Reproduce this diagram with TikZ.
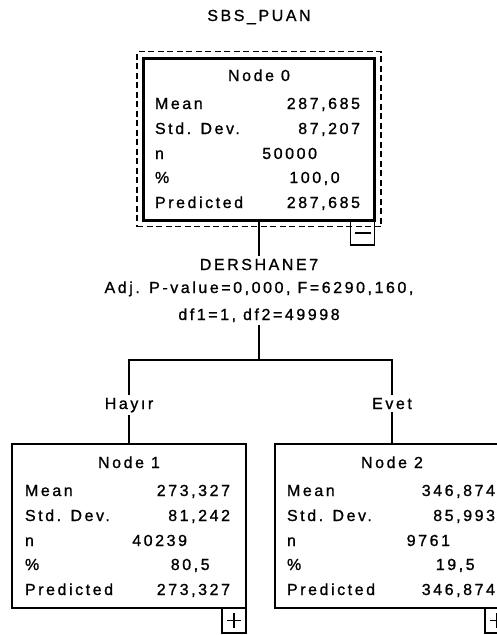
\documentclass[tikz,border=0pt]{standalone}
\usepackage{fontspec}
\setmainfont{Liberation Sans}[LetterSpace=16,FakeBold=1]
\usetikzlibrary{fit}
\begin{document}
\begin{tikzpicture}[x=1pt,y=-1pt,
  txt/.style={inner sep=0pt,outer sep=0pt,font=\fontsize{16}{19}\selectfont},
  lbl/.style={txt,inner ysep=3pt},
  box/.style={draw,line width=1.3pt,inner sep=0pt,outer sep=0pt,minimum width=234pt,minimum height=164pt},
  rootbox/.style={box,line width=3pt,minimum width=231pt,minimum height=162pt},
  selbox/.style={draw,line width=1.3pt,dash pattern=on 6pt off 3.5pt,inner sep=6.5pt},
  toggle/.style={draw,line width=1.2pt,inner sep=0pt,outer sep=0pt,minimum width=24pt,minimum height=25pt,anchor=north east},
  link/.style={line width=1.2pt}]
\clip (0,0) rectangle (497,635);
\fill[white] (0,0) rectangle (497,635);

\node[txt,anchor=base] (title) at (259,21) {SBS\_PUAN};

% root node
\node[rootbox] (n0) at (259,139) {};
\node[selbox,fit=(n0)] (n0sel) {};
\node[toggle] (n0tog) at (n0.south east) {};
\draw[line width=2pt] ([xshift=4pt]n0tog.west) -- ([xshift=-4pt]n0tog.east);
\node[txt,anchor=base] (n0h) at (259,81) {Node 0};
\node[txt,anchor=base west] (n0a) at (155,109) {Mean};
\node[txt,anchor=base east] (n0av) at (360,109) {287,685};
\node[txt,anchor=base west] (n0b) at (155,134) {Std. Dev.};
\node[txt,anchor=base east] (n0bv) at (360,134) {87,207};
\node[txt,anchor=base west] (n0c) at (155,159) {n};
\node[txt,anchor=base east] (n0cv) at (317,159) {50000};
\node[txt,anchor=base west] (n0d) at (155,183) {\%};
\node[txt,anchor=base east] (n0dv) at (360,183) {100,0\phantom{00}};
\node[txt,anchor=base west] (n0e) at (155,208) {Predicted};
\node[txt,anchor=base east] (n0ev) at (360,208) {287,685};

% split
\node[lbl,anchor=base] (var) at (259,270) {DERSHANE7};
\node[lbl,anchor=base] (stat1) at (259,293) {Adj. P-value=0,000, F=6290,160,};
\node[lbl,anchor=base] (stat2) at (259,320) {df1=1, df2=49998};
\coordinate (fork) at (259,360);
\node[lbl,anchor=base] (hay) at (129,409) {Hayır};
\node[lbl,anchor=base] (evet) at (392,409) {Evet};

% child nodes
\node[box] (n1) at (129,526) {};
\node[box] (n2) at (392,526) {};
\node[toggle] (n1tog) at (n1.south east) {};
\node[toggle] (n2tog) at (n2.south east) {};
\draw[line width=1.2pt] ([xshift=5pt]n1tog.west) -- ([xshift=-5pt]n1tog.east)
  ([yshift=-5pt]n1tog.north) -- ([yshift=5pt]n1tog.south);
\draw[line width=1.2pt] ([xshift=5pt]n2tog.west) -- ([xshift=-5pt]n2tog.east)
  ([yshift=-5pt]n2tog.north) -- ([yshift=5pt]n2tog.south);

\node[txt,anchor=base] (n1h) at (129,468) {Node 1};
\node[txt,anchor=base west] (n1a) at (25,496) {Mean};
\node[txt,anchor=base east] (n1av) at (230,496) {273,327};
\node[txt,anchor=base west] (n1b) at (25,521) {Std. Dev.};
\node[txt,anchor=base east] (n1bv) at (230,521) {81,242};
\node[txt,anchor=base west] (n1c) at (25,546) {n};
\node[txt,anchor=base east] (n1cv) at (187,546) {40239};
\node[txt,anchor=base west] (n1d) at (25,570) {\%};
\node[txt,anchor=base east] (n1dv) at (230,570) {80,5\phantom{00}};
\node[txt,anchor=base west] (n1e) at (25,595) {Predicted};
\node[txt,anchor=base east] (n1ev) at (230,595) {273,327};

\node[txt,anchor=base] (n2h) at (392,468) {Node 2};
\node[txt,anchor=base west] (n2a) at (287,496) {Mean};
\node[txt,anchor=base east] (n2av) at (495,496) {346,874};
\node[txt,anchor=base west] (n2b) at (287,521) {Std. Dev.};
\node[txt,anchor=base east] (n2bv) at (495,521) {85,993};
\node[txt,anchor=base west] (n2c) at (287,546) {n};
\node[txt,anchor=base east] (n2cv) at (450,546) {9761};
\node[txt,anchor=base west] (n2d) at (287,570) {\%};
\node[txt,anchor=base east] (n2dv) at (495,570) {19,5\phantom{00}};
\node[txt,anchor=base west] (n2e) at (287,595) {Predicted};
\node[txt,anchor=base east] (n2ev) at (495,595) {346,874};

% connectors
\draw[link] (n0.south) -- (n0.south |- var.north);
\draw[link] (fork |- stat2.south) -- (fork);
\draw[link] (hay.north -| n1.north) |- (fork) -| (evet.north -| n2.north);
\draw[link] (hay.south -| n1.north) -- (n1.north);
\draw[link] (evet.south -| n2.north) -- (n2.north);
\end{tikzpicture}
\end{document}
